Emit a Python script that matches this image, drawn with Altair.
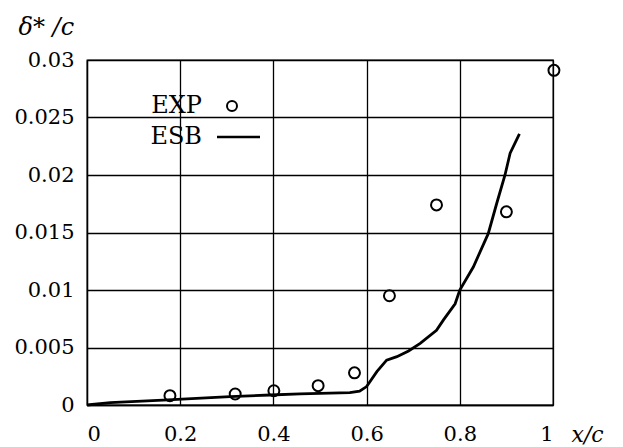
import altair as alt
import pandas as pd

# Experimental displacement thickness (EXP)
exp_x = [0.178, 0.318, 0.401, 0.496, 0.574, 0.649, 0.750, 0.900, 1.002]
exp_y = [0.00081, 0.00096, 0.00124, 0.00168, 0.0028, 0.0095, 0.0174, 0.0168, 0.0291]

# Computed displacement thickness (ESB)
esb_x = [0.0, 0.05, 0.163, 0.307, 0.393, 0.457, 0.564, 0.585, 0.600, 0.622, 0.643,
         0.665, 0.690, 0.715, 0.750, 0.765, 0.790, 0.800, 0.829, 0.861, 0.879,
         0.897, 0.908, 0.928]
esb_y = [0.0, 0.0002, 0.00043, 0.00072, 0.00087, 0.00096, 0.00107, 0.0012, 0.0016,
         0.0029, 0.0039, 0.0042, 0.0047, 0.00536, 0.0065, 0.0074, 0.0088, 0.0100,
         0.0120, 0.0149, 0.0175, 0.0200, 0.0219, 0.02357]

x_ticks = [0, 0.2, 0.4, 0.6, 0.8, 1]
y_ticks = [0, 0.005, 0.01, 0.015, 0.02, 0.025, 0.03]
legend_labels = ["EXP", "ESB"]

FONT = "DejaVu Serif"
INK = "#000000"

exp_df = pd.DataFrame({"x": exp_x, "y": exp_y})
esb_df = pd.DataFrame({"x": esb_x, "y": esb_y})

x_scale = alt.Scale(domain=[0, 1], nice=False, zero=False)
y_scale = alt.Scale(domain=[0, 0.03], nice=False, zero=False)

x_axis = alt.Axis(
    values=x_ticks, format="~g", ticks=False, labelPadding=18,
    labelFont=FONT, labelFontSize=21, labelColor=INK,
    grid=True, gridColor=INK, gridWidth=1.3, gridOpacity=1,
    domainColor=INK, domainWidth=1.3,
    title="x/c", titleFont=FONT, titleFontStyle="italic", titleFontWeight="normal",
    titleFontSize=22, titleColor=INK, titleAngle=0, titleAlign="left",
    titleBaseline="middle", titleX=484, titleY=29,
)
y_axis = alt.Axis(
    values=y_ticks, format="~g", ticks=False, labelPadding=13,
    labelFont=FONT, labelFontSize=21, labelColor=INK,
    grid=True, gridColor=INK, gridWidth=1.3, gridOpacity=1,
    domainColor=INK, domainWidth=1.3,
    title="δ* /c", titleFont=FONT, titleFontStyle="italic", titleFontWeight="normal",
    titleFontSize=24, titleColor=INK, titleAngle=0, titleAlign="left",
    titleBaseline="middle", titleX=-69, titleY=-33,
)

line = alt.Chart(esb_df).mark_line(color=INK, strokeWidth=2.8, clip=False).encode(
    x=alt.X("x:Q", scale=x_scale, axis=x_axis),
    y=alt.Y("y:Q", scale=y_scale, axis=y_axis),
)

points = alt.Chart(exp_df).mark_point(
    shape="circle", filled=False, color=INK, size=120, strokeWidth=2,
    opacity=1, clip=False
).encode(
    x=alt.X("x:Q", scale=x_scale),
    y=alt.Y("y:Q", scale=y_scale),
)

# Legend: label on the left, symbol on the right
one = pd.DataFrame({"k": [0]})
leg_exp_text = alt.Chart(pd.DataFrame({"label": [legend_labels[0]]})).mark_text(
    font=FONT, fontSize=24, color=INK, align="right", baseline="middle"
).encode(text="label:N", x=alt.value(115), y=alt.value(46))
leg_exp_sym = alt.Chart(one).mark_point(
    shape="circle", filled=False, color=INK, size=100, strokeWidth=2, opacity=1
).encode(x=alt.value(145), y=alt.value(46))
leg_esb_text = alt.Chart(pd.DataFrame({"label": [legend_labels[1]]})).mark_text(
    font=FONT, fontSize=24, color=INK, align="right", baseline="middle"
).encode(text="label:N", x=alt.value(115), y=alt.value(77))
leg_esb_line = alt.Chart(one).mark_rule(color=INK, strokeWidth=2.5).encode(
    x=alt.value(130), x2=alt.value(173), y=alt.value(77)
)

chart = alt.layer(
    line, points, leg_exp_text, leg_exp_sym, leg_esb_text, leg_esb_line
).properties(
    width=466, height=345,
    autosize=alt.AutoSizeParams(type="none"),
    padding={"left": 87, "top": 60, "right": 70, "bottom": 42},
    background="white",
).configure_view(stroke=INK, strokeWidth=1.3)

chart.save("out.html", embed_options={"renderer": "svg", "actions": False})
